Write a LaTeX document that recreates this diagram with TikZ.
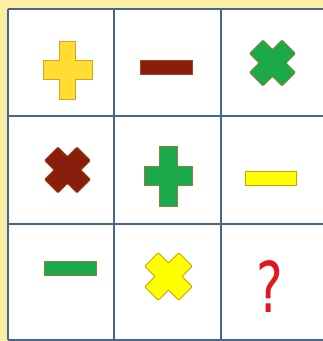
\documentclass[tikz,border=0pt]{standalone}
\usepackage{fontspec}
\setmainfont{Liberation Sans}
\newfontfamily\qfont{DejaVu Sans}
\definecolor{bgyellow}{HTML}{FCEFA3}
\definecolor{gridblue}{HTML}{46668F}
\definecolor{plusyellow}{HTML}{FFDD33}
\definecolor{plusyellowedge}{HTML}{D9A21C}
\definecolor{brownfill}{HTML}{8A1E0C}
\definecolor{brownedge}{HTML}{A0481E}
\definecolor{greenfill}{HTML}{1CA94C}
\definecolor{greenedge}{HTML}{8A8040}
\definecolor{brightyellow}{HTML}{FFFF00}
\definecolor{brightyellowedge}{HTML}{C9A400}
\definecolor{qred}{HTML}{E3161B}
\newcommand\myplus[6]{% cx cy halfwidth-horizontal halfheight-bar halfwidth-vertical halfheight-vertical
  (#1-#3,#2-#4) -- (#1-#5,#2-#4) -- (#1-#5,#2-#6) -- (#1+#5,#2-#6) -- (#1+#5,#2-#4) -- (#1+#3,#2-#4)
  -- (#1+#3,#2+#4) -- (#1+#5,#2+#4) -- (#1+#5,#2+#6) -- (#1-#5,#2+#6) -- (#1-#5,#2+#4) -- (#1-#3,#2+#4) -- cycle}
\newcommand\mycross[2]{% X shape centred at origin
  (-#1,-#2) -- (-#2,-#2) -- (-#2,-#1) -- (#2,-#1) -- (#2,-#2) -- (#1,-#2)
  -- (#1,#2) -- (#2,#2) -- (#2,#1) -- (-#2,#1) -- (-#2,#2) -- (-#1,#2) -- cycle}
\tikzset{
  gridline/.style={draw=gridblue, line width=2pt},
  symedge/.style={line width=0.9pt, line join=miter},
}
\begin{document}
\begin{tikzpicture}[x=1pt,y=-1pt]
  \useasboundingbox (0,0) rectangle (323,341);
  \fill[bgyellow] (0,0) rectangle (323,341);
  \fill[white] (7.5,8.5) rectangle (330,339.5);
  % grid
  \draw[gridline] (7.5,8.5) -- (330,8.5);
  \draw[gridline] (7.5,116) -- (330,116);
  \draw[gridline] (7.5,224) -- (330,224);
  \draw[gridline] (7.5,339.5) -- (330,339.5);
  \draw[gridline] (7.5,8.5) -- (7.5,339.5);
  \draw[gridline] (114,8.5) -- (114,339.5);
  \draw[gridline] (221,8.5) -- (221,339.5);
  % row 1
  \filldraw[symedge, fill=plusyellow, draw=plusyellowedge] \myplus{67.5}{70}{24.5}{9.5}{8}{29};
  \filldraw[symedge, fill=brownfill, draw=brownedge] (140,60.5) rectangle (192,74);
  \begin{scope}[shift={(272.5,63)}, rotate=45]
    \filldraw[symedge, rounded corners=1pt, fill=greenfill, draw=greenedge] \mycross{23}{9.5};
  \end{scope}
  % row 2
  \begin{scope}[shift={(67.5,170)}, rotate=45]
    \filldraw[symedge, rounded corners=1pt, fill=brownfill, draw=brownedge] \mycross{23}{9.5};
  \end{scope}
  \filldraw[symedge, fill=greenfill, draw=greenedge] \myplus{168}{176}{24}{9.5}{9}{30};
  \filldraw[symedge, fill=brightyellow, draw=brightyellowedge] (245,171) rectangle (296,185);
  % row 3
  \filldraw[symedge, fill=greenfill, draw=greenedge] (44.5,261) rectangle (96,275);
  \begin{scope}[shift={(168.5,276.5)}, rotate=45]
    \filldraw[symedge, rounded corners=1pt, fill=brightyellow, draw=brightyellowedge] \mycross{24}{9.5};
  \end{scope}
  \node[text=qred, font=\qfont\fontsize{70}{70}\selectfont, inner sep=0pt] (q) at (270,286.5) {\scalebox{0.72}[1]{?}};
\end{tikzpicture}
\end{document}
